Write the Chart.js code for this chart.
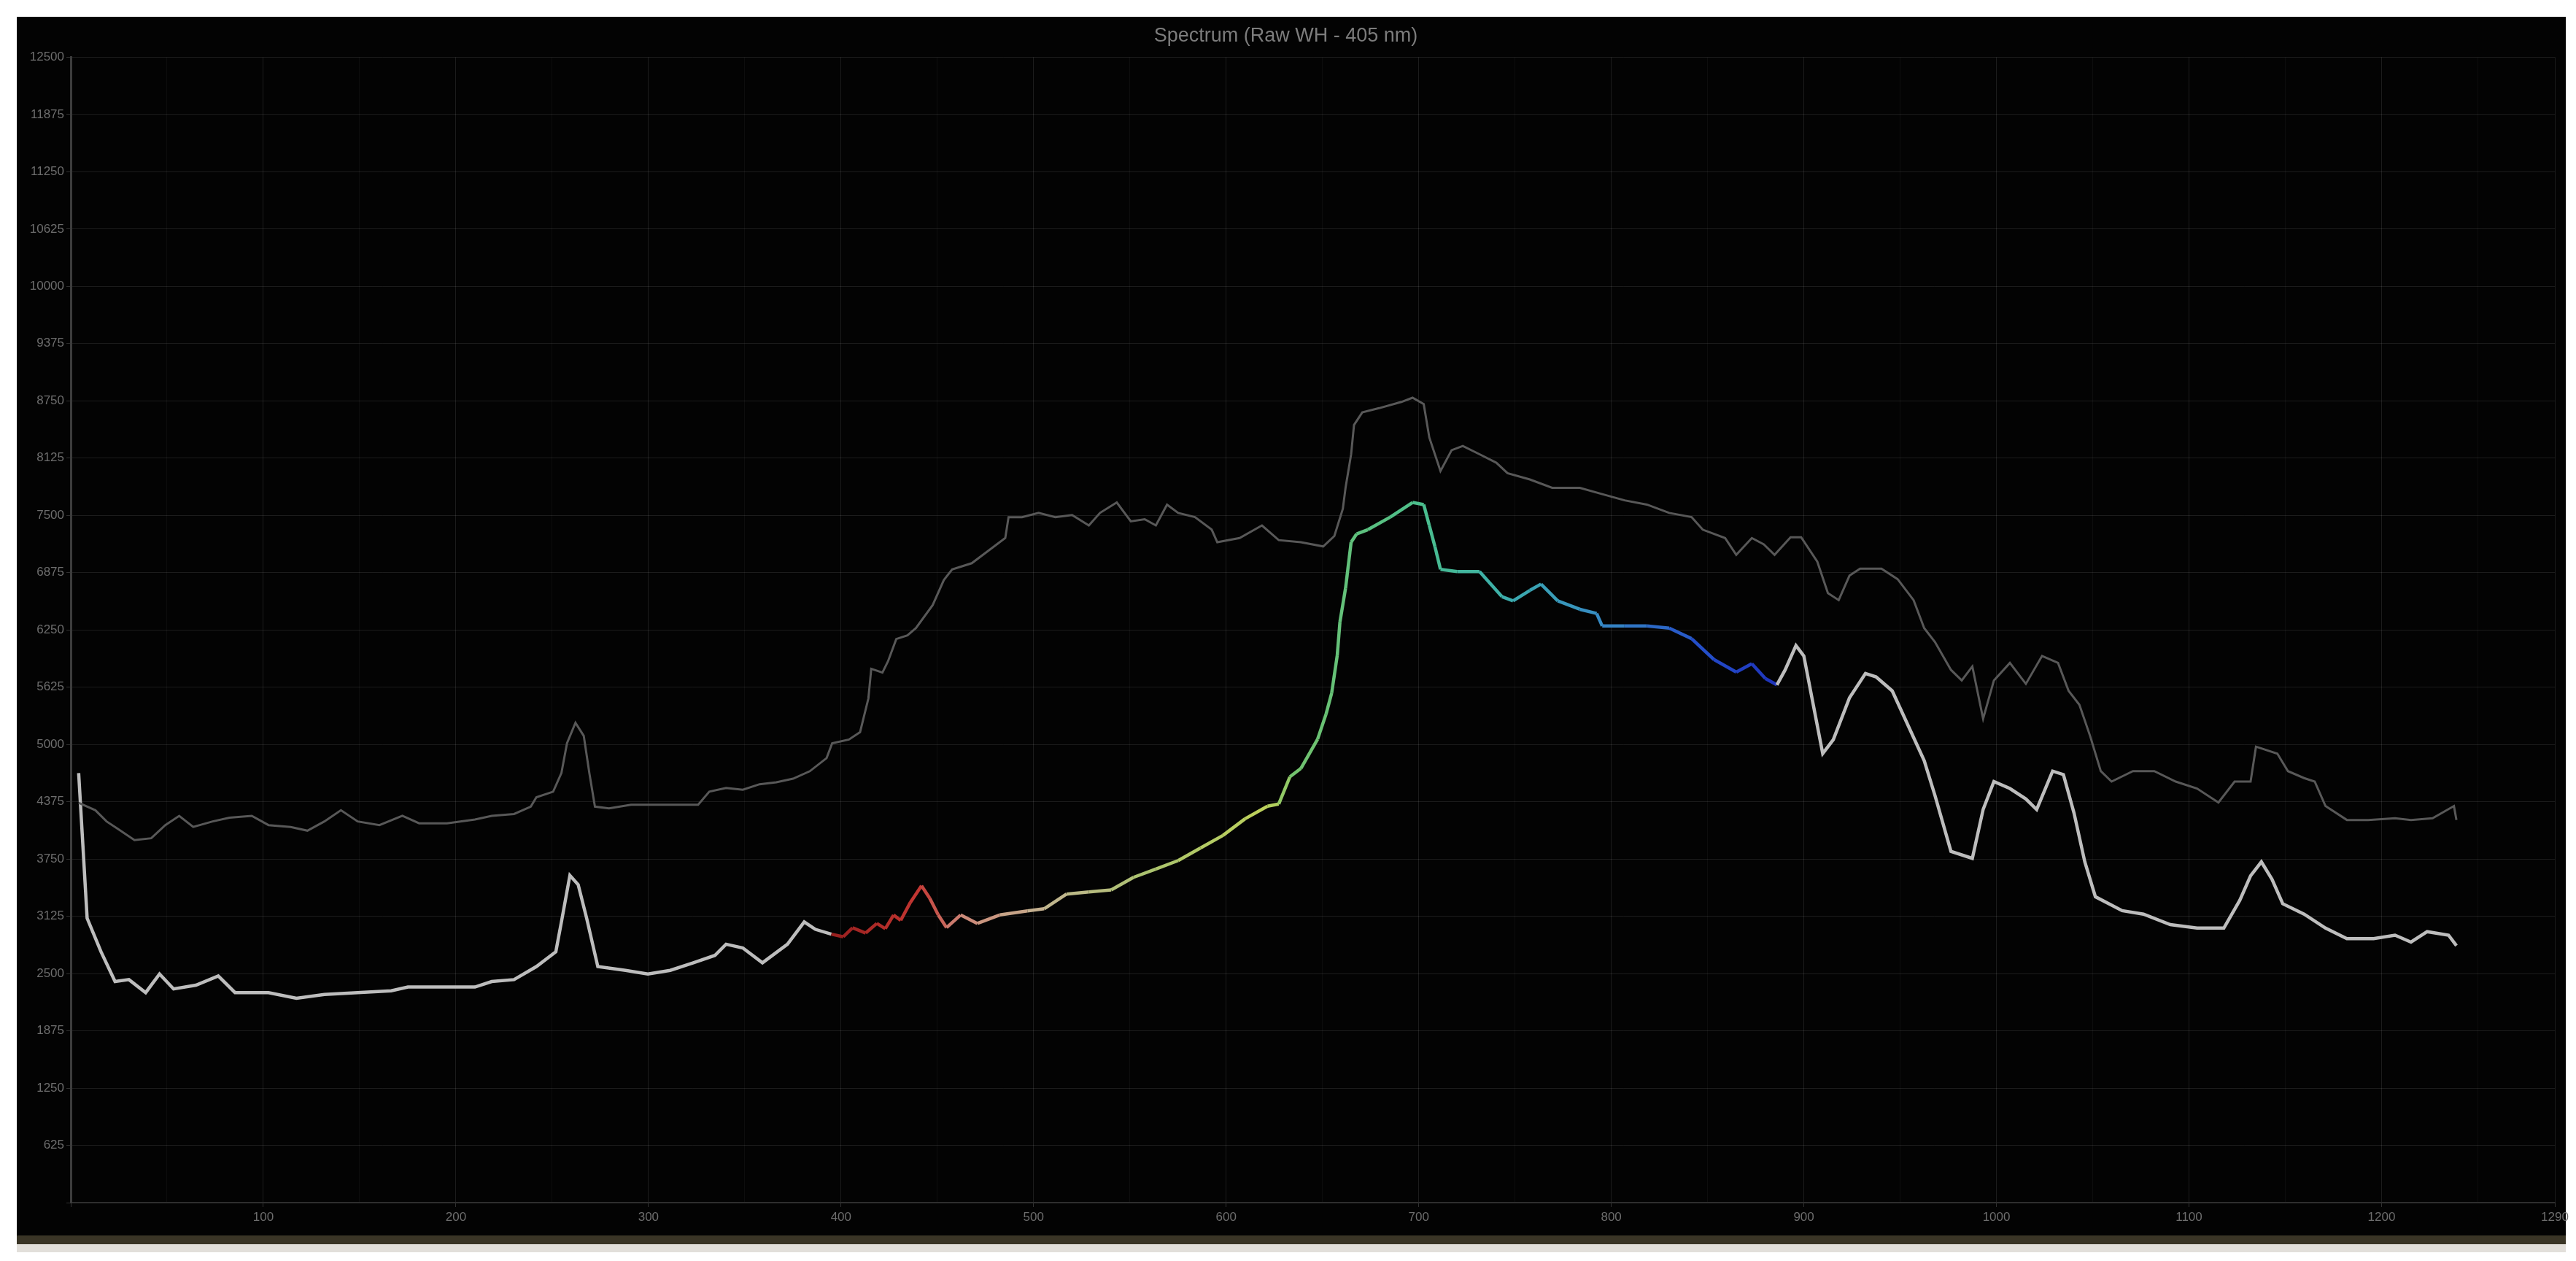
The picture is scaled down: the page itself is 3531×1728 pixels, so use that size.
<!DOCTYPE html>
<html><head><meta charset="utf-8">
<script src="https://cdn.jsdelivr.net/npm/chart.js@4"></script>
<style>html,body{margin:0;padding:0;background:#fff;overflow:hidden}</style>
</head><body>
<canvas id="c" width="3531" height="1728"></canvas>
<script>
// ---------- data ----------
const chartTitle = 'Spectrum (Raw WH - 405 nm)';
const xMin = 0, xMax = 1290, xStep = 50, xLabelStep = 100;
const yMin = 0, yMax = 12500, yStep = 625;

const upperX = [4.1,12.8,18.6,24.4,33.1,41.8,49.1,56.3,63.6,73.7,82.4,94.0,102.7,114.2,122.9,131.7,140.3,149.0,160.3,172.2,180.9,195.4,209.9,218.6,230.2,238.9,241.8,250.5,254.8,257.7,262.1,266.4,269.3,272.2,279.5,291.0,305.5,325.8,331.6,340.3,349.0,357.7,366.4,375.1,383.8,392.5,395.4,404.1,409.9,414.2,415.7,421.5,424.4,428.7,434.5,438.9,447.6,453.4,457.7,467.9,479.5,485.3,487.0,494.0,502.6,511.3,520.0,528.7,534.5,543.2,550.5,557.7,563.5,569.3,575.1,583.8,592.5,595.4,607.0,618.6,627.3,638.8,650.4,656.2,660.6,662.0,664.9,666.4,670.7,679.4,691.0,696.8,702.6,705.5,711.3,717.1,722.9,731.6,740.3,746.1,757.7,769.3,783.7,795.3,806.9,818.5,830.1,841.7,847.5,859.1,864.9,873.0,879.2,884.8,893.1,898.6,907.0,912.5,918.1,923.7,929.2,940.3,948.7,957.0,962.5,968.1,976.4,982.0,987.5,993.1,998.7,1007.0,1015.3,1023.7,1032.0,1037.5,1043.1,1048.7,1054.2,1059.8,1070.9,1082.0,1093.1,1104.2,1115.3,1123.7,1132.0,1134.8,1145.9,1151.4,1159.8,1165.3,1170.9,1182.0,1193.1,1207.0,1215.3,1226.5,1237.6,1238.9];
const upperY = [4363,4282,4160,4079,3957,3977,4120,4221,4100,4160,4201,4221,4120,4100,4059,4160,4282,4160,4120,4221,4140,4140,4181,4221,4241,4322,4424,4485,4688,5013,5237,5094,4688,4322,4302,4343,4343,4343,4485,4526,4506,4566,4587,4627,4708,4851,5013,5054,5135,5501,5826,5785,5907,6151,6191,6270,6521,6795,6910,6978,7161,7253,7481,7481,7527,7481,7504,7390,7527,7641,7435,7458,7390,7618,7527,7481,7344,7207,7253,7390,7230,7207,7161,7275,7572,7801,8167,8487,8624,8670,8738,8784,8715,8350,7984,8212,8258,8167,8075,7961,7892,7801,7801,7732,7664,7618,7527,7481,7344,7253,7070,7253,7184,7070,7261,7261,6994,6651,6575,6842,6918,6918,6804,6575,6270,6118,5814,5699,5852,5280,5699,5890,5661,5966,5890,5585,5433,5090,4709,4595,4709,4709,4595,4519,4366,4595,4595,4976,4900,4709,4633,4595,4328,4176,4176,4195,4176,4195,4328,4176];

const lowerX = [4.1,8.5,15.7,23.0,30.2,38.9,46.1,53.4,65.0,76.6,85.3,102.7,117.2,131.7,149.0,166.4,175.1,189.6,209.9,218.6,230.2,241.8,251.9,254.8,259.2,263.5,267.9,273.7,288.1,299.7,311.3,323.3,334.5,340.3,349.0,359.2,372.2,380.9,386.7,395.0,401.2,406.0,412.8,418.6,423.0,427.3,431.0,436.0,441.8,446.1,450.5,454.8,462.1,470.8,482.4,496.8,505.5,517.1,528.7,540.3,551.9,563.5,575.1,586.7,598.3,609.9,621.5,627.3,633.1,638.8,647.5,651.9,654.8,657.7,659.1,662.0,664.9,667.8,673.6,685.2,696.8,702.6,705.5,708.4,711.3,720.0,731.6,743.2,749.0,757.7,763.5,772.2,783.7,792.4,795.3,806.9,818.5,830.1,841.7,853.3,864.9,873.0,880.0,886.0,890.3,895.9,900.0,904.2,909.8,915.3,923.7,932.0,937.5,945.9,954.2,962.5,968.1,976.4,987.5,993.1,998.7,1007.0,1015.3,1020.9,1029.2,1034.8,1040.3,1045.9,1051.4,1065.3,1076.4,1090.3,1104.2,1118.1,1126.4,1132.0,1137.6,1143.1,1148.7,1159.8,1170.9,1182.0,1195.9,1207.0,1215.3,1223.7,1234.8,1238.9];
const lowerY = [4688,3104,2738,2413,2434,2292,2495,2332,2373,2474,2292,2292,2231,2271,2292,2312,2353,2353,2353,2413,2434,2576,2738,3063,3571,3470,3104,2576,2535,2495,2535,2617,2698,2820,2779,2617,2820,3063,2982,2930,2901,3000,2942,3047,2990,3139,3080,3276,3459,3321,3139,3001,3139,3047,3139,3184,3207,3367,3390,3413,3550,3641,3733,3870,4007,4190,4327,4350,4647,4738,5058,5333,5561,5973,6338,6704,7207,7298,7344,7481,7641,7618,7390,7161,6910,6887,6887,6613,6567,6681,6750,6567,6475,6430,6293,6293,6293,6270,6155,5927,5790,5881,5720,5650,5814,6080,5966,5509,4900,5052,5509,5775,5737,5585,5204,4823,4443,3833,3757,4290,4595,4519,4405,4290,4709,4671,4252,3719,3338,3186,3148,3034,2996,2996,3300,3567,3719,3529,3262,3148,2996,2881,2881,2919,2843,2957,2919,2805];

// ---------- styles ----------
const lowerColor = '#bdbdbd';
const upperColor = '#585858';
const spectrumStops = [
  [395,[150,30,30]],[440,[195,55,50]],[462,[205,135,120]],[505,[195,180,145]],
  [560,[170,195,110]],[622,[190,210,90]],[636,[115,195,110]],[700,[75,190,140]],
  [742,[60,175,170]],[792,[55,140,195]],[850,[35,75,200]],[888,[30,50,185]]
];
function spectrumColor(x){
  if (x < spectrumStops[0][0] || x > spectrumStops[spectrumStops.length-1][0]) return lowerColor;
  for (let i = 0; i < spectrumStops.length-1; i++){
    const a = spectrumStops[i], b = spectrumStops[i+1];
    if (x >= a[0] && x <= b[0]){
      const t = (x - a[0]) / (b[0] - a[0]);
      const c = a[1].map((v,k)=>Math.round(v + (b[1][k]-v)*t));
      return `rgb(${c[0]},${c[1]},${c[2]})`;
    }
  }
  return lowerColor;
}
const toPts = (xs, ys) => xs.map((x,i)=>({x, y: ys[i]}));

const bgPlugin = {
  id: 'bg',
  beforeDraw(chart){
    const c = chart.ctx; c.save();
    c.fillStyle = '#ffffff'; c.fillRect(0,0,chart.width,chart.height);
    c.fillStyle = '#030303'; c.fillRect(23,23,3494,1670);
    c.fillStyle = '#3a3526'; c.fillRect(23,1693,3494,12);
    c.fillStyle = '#e2dfda'; c.fillRect(23,1705,3494,11);
    c.restore();
  }
};

const tickFont = {family: 'Liberation Sans', size: 17};

new Chart(document.getElementById('c'), {
  type: 'line',
  data: {
    datasets: [
      { label: 'reference', data: toPts(upperX, upperY), borderColor: upperColor,
        borderWidth: 3, pointRadius: 0, tension: 0, fill: false },
      { label: 'spectrum', data: toPts(lowerX, lowerY), borderColor: lowerColor,
        borderWidth: 4.5, pointRadius: 0, tension: 0, fill: false,
        segment: { borderColor: ctx => spectrumColor((ctx.p0.parsed.x + ctx.p1.parsed.x) / 2) } }
    ]
  },
  options: {
    responsive: false, animation: false, devicePixelRatio: 1,
    layout: { padding: { left: 23, top: 23, right: 29, bottom: 0 } },
    plugins: {
      legend: { display: false }, tooltip: { enabled: false },
      title: { display: true, text: chartTitle, color: '#7c7c7c',
        font: { family: 'Liberation Sans', size: 27, weight: 'normal' },
        padding: { top: 10, bottom: 13 } }
    },
    scales: {
      x: {
        type: 'linear', min: xMin, max: xMax,
        afterFit: s => { s.height = 80; },
        border: { color: '#2e2e2e', width: 2 },
        grid: {
          color: c => (c.tick && (c.tick.value % xLabelStep === 0 || c.tick.value === xMax)) ? 'rgba(255,255,255,0.10)' : 'rgba(255,255,255,0.045)',
          tickColor: c => (c.tick && (c.tick.value % xLabelStep === 0 || c.tick.value === xMax)) ? 'rgba(255,255,255,0.18)' : 'rgba(0,0,0,0)',
          tickLength: 6
        },
        ticks: {
          stepSize: xStep, autoSkip: false, maxRotation: 0, color: '#6e6e6e', font: tickFont, padding: 4,
          callback: v => (v !== 0 && (v % xLabelStep === 0 || v === xMax)) ? String(v) : ''
        }
      },
      y: {
        type: 'linear', min: yMin, max: yMax,
        afterFit: s => { s.width = 74; },
        border: { color: '#3c3c3c', width: 3 },
        grid: { color: 'rgba(255,255,255,0.10)', tickColor: 'rgba(255,255,255,0.18)', tickLength: 6 },
        ticks: { stepSize: yStep, autoSkip: false, color: '#6e6e6e', font: tickFont, padding: 3,
          callback: v => v === 0 ? '' : String(v) }
      }
    }
  },
  plugins: [bgPlugin]
});
</script>
</body></html>
